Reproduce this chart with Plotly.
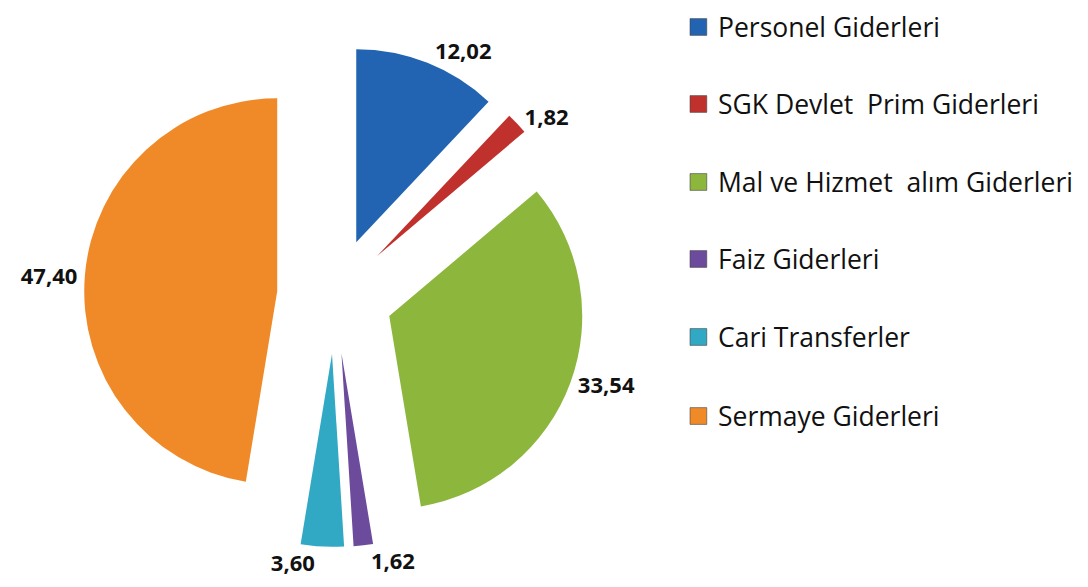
import plotly.graph_objects as go

categories = ["Personel Giderleri", "SGK Devlet  Prim Giderleri", "Mal ve Hizmet  alım Giderleri",
              "Faiz Giderleri", "Cari Transferler", "Sermaye Giderleri"]
values = [12.02, 1.82, 33.54, 1.62, 3.60, 47.40]
value_labels = ["12,02", "1,82", "33,54", "1,62", "3,60", "47,40"]
colors = ["#2264B2", "#C0312E", "#8DB63D", "#6C4A9C", "#31A8C4", "#F08A28"]

W, H = 1080, 579  # page body has an 8px margin; keeps the figure inside the window

fig = go.Figure()
fig.add_trace(go.Pie(
    labels=categories,
    values=values,
    text=value_labels,
    textinfo="text",
    textposition="outside",
    textfont=dict(family="Open Sans", size=22, color="#111111", weight="bold"),
    marker=dict(colors=colors, line=dict(width=0)),
    pull=[0.3] * len(values),
    sort=False,
    direction="clockwise",
    rotation=0,
    showlegend=False,
    hoverinfo="label+value",
    domain=dict(x=[0.0704, 0.535], y=[0.069, 0.936]),
))

# manual legend built from the category list
legend_y = [0.9672, 0.8342, 0.6995, 0.5665, 0.4318, 0.2953]
for name, col, yy in zip(categories, colors, legend_y):
    fig.add_shape(type="rect", xref="paper", yref="paper",
                  x0=0.6315, x1=0.647, y0=yy - 0.0145, y1=yy + 0.0145,
                  fillcolor=col, line=dict(color="#444444", width=0.6))
    fig.add_annotation(x=0.6555, y=yy, xref="paper", yref="paper", text=name,
                       showarrow=False, xanchor="left", yanchor="middle",
                       font=dict(family="Open Sans", size=26.5, color="#111111"))

fig.update_layout(
    width=W, height=H, autosize=False,
    margin=dict(l=0, r=0, t=0, b=0, autoexpand=False),
    paper_bgcolor="white", plot_bgcolor="white",
)
fig.write_html("out.html")
